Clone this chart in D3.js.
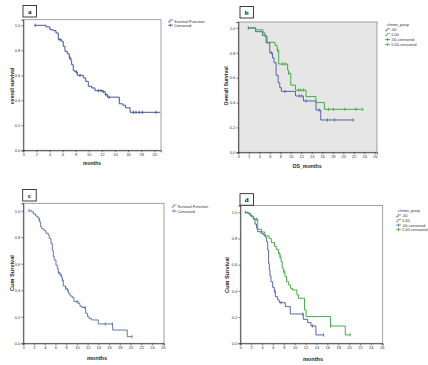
<!DOCTYPE html>
<html><head><meta charset="utf-8">
<script src="https://cdn.jsdelivr.net/npm/d3@7"></script>
<style>body{margin:0;background:#fff}svg{display:block}</style>
</head><body>
<svg id="chart" width="428" height="365"></svg>
<script>
// ---------- DATA ----------
const yTicks = [0, 0.2, 0.4, 0.6, 0.8, 1.0];
const xTicksA = [0, 2, 4, 6, 8, 10, 12, 14, 16, 18, 20];
const xTicksWide = [0, 2, 4, 6, 8, 10, 12, 14, 16, 18, 20, 22, 24, 26];

// Panel a (single curve)
const aTime = [1.78, 3.46, 4.07, 4.58, 4.99, 5.34, 5.85, 6.1, 6.36, 6.72, 7.02, 7.28, 7.38, 7.63, 7.89, 8.24, 9.16, 9.52, 9.92, 10.43, 10.94, 12.1, 12.5, 12.85, 14.66, 15.2, 15.6, 16.3];
const aSurv = [1.0, 0.987, 0.965, 0.957, 0.939, 0.885, 0.872, 0.832, 0.792, 0.771, 0.739, 0.717, 0.685, 0.637, 0.627, 0.6, 0.579, 0.552, 0.512, 0.499, 0.477, 0.469, 0.445, 0.425, 0.372, 0.36, 0.34, 0.304];
const aEnd = 20.9;
const aCens = [1.8, 5.6, 7.1, 8.1, 8.65, 11.45, 11.86, 12.2, 12.6, 13.1, 16.8, 17.2, 17.7, 18.2, 20.25];

// Panel b (two groups)
const bTime0 = [1.9, 3.3, 4.6, 5.3, 6.0, 6.5, 6.8, 7.2, 7.6, 7.9, 8.2, 10.9, 12.4, 14.8, 15.7];
const bSurv0 = [1.0, 0.97, 0.94, 0.88, 0.80, 0.76, 0.72, 0.62, 0.56, 0.52, 0.49, 0.453, 0.413, 0.34, 0.26];
const bEnd0 = 21.9;
const bCens0 = [1.9, 6.3, 8.9, 11.6, 12.1, 12.9, 15.4, 17.0, 18.3, 21.9];
const bTime1 = [1.9, 3.3, 4.7, 5.1, 5.5, 7.0, 7.4, 7.7, 9.4, 9.6, 10.0, 10.9, 12.9, 14.8, 16.4];
const bSurv1 = [1.0, 0.985, 0.96, 0.93, 0.885, 0.86, 0.82, 0.71, 0.66, 0.635, 0.54, 0.5, 0.448, 0.40, 0.346];
const bEnd1 = 23.7;
const bCens1 = [7.5, 8.4, 8.9, 9.6, 11.5, 11.9, 12.4, 17.2, 18.1, 20.3, 22.4, 23.7];

// Panel c (single curve)
const cTime = [1.06, 1.55, 1.87, 2.3, 2.61, 2.92, 3.11, 3.23, 3.42, 3.86, 4.23, 4.66, 4.85, 5.16, 5.41, 5.6, 5.78, 6.09, 6.34, 6.53, 6.84, 7.15, 7.28, 7.46, 7.9, 8.21, 8.4, 8.71, 9.14, 9.45, 10.26, 10.57, 10.95, 11.63, 12.0, 12.31, 12.75, 13.99, 16.67, 19.4];
const cSurv = [1.0, 0.992, 0.975, 0.96, 0.95, 0.93, 0.91, 0.88, 0.864, 0.85, 0.83, 0.816, 0.79, 0.754, 0.70, 0.653, 0.628, 0.59, 0.565, 0.533, 0.515, 0.497, 0.477, 0.432, 0.415, 0.40, 0.377, 0.357, 0.344, 0.314, 0.30, 0.28, 0.27, 0.226, 0.20, 0.186, 0.176, 0.146, 0.10, 0.05];
const cEnd = 20.3;
const cCens = [1.06, 3.0, 6.6, 7.0, 7.3, 7.9, 8.3, 10.0, 11.5, 15.3, 16.6, 20.3];

// Panel d (two groups)
const dTime0 = [0.92, 1.35, 1.84, 2.39, 2.7, 3.0, 3.19, 3.8, 4.23, 4.6, 4.84, 5.03, 5.21, 5.33, 5.46, 5.64, 5.95, 6.25, 6.44, 6.87, 7.17, 8.28, 9.2, 11.59, 12.38, 13.0, 13.9];
const dSurv0 = [1.0, 0.992, 0.972, 0.954, 0.91, 0.878, 0.852, 0.84, 0.827, 0.81, 0.776, 0.712, 0.61, 0.56, 0.514, 0.47, 0.427, 0.394, 0.356, 0.331, 0.31, 0.28, 0.224, 0.183, 0.158, 0.132, 0.064];
const dEnd0 = 15.3;
const dCens0 = [0.92, 6.4, 7.5, 11.5, 13.3, 15.3];
const dTime1 = [0.92, 1.53, 1.96, 2.39, 3.2, 3.9, 4.5, 5.3, 5.7, 6.3, 6.6, 7.0, 7.3, 7.5, 7.7, 7.97, 8.2, 8.5, 8.9, 9.2, 9.6, 10.4, 10.7, 11.8, 12.1, 16.6, 19.3];
const dSurv1 = [1.0, 0.987, 0.97, 0.947, 0.87, 0.85, 0.82, 0.80, 0.77, 0.74, 0.718, 0.687, 0.66, 0.623, 0.573, 0.547, 0.51, 0.47, 0.445, 0.42, 0.407, 0.37, 0.344, 0.254, 0.204, 0.132, 0.064];
const dEnd1 = 20.2;
const dCens1 = [3.0, 7.1, 7.3, 8.0, 16.6, 20.2];

const BLUE_A = "#2b3f8f", BLUE = "#4557a3", BLUE_C = "#5568ad", GREEN = "#35a235";

// ---------- DRAW ----------
const svg = d3.select("#chart");

function survAt(times, survs, t) {
  let s = survs[0];
  for (let i = 0; i < times.length; i++) if (times[i] <= t) s = survs[i];
  return s;
}

function panel(p) {
  const g = svg.append("g");
  const x = d3.scaleLinear().domain([0, p.xMax]).range([p.x0, p.x1]);
  const y = d3.scaleLinear().domain([0, p.yMax]).range([p.yb, p.yt]);
  // background / frame
  g.append("rect").attr("x", p.x0).attr("y", p.yt).attr("width", p.x1 - p.x0).attr("height", p.yb - p.yt)
    .attr("fill", p.bg).attr("stroke", "#8a8a8a").attr("stroke-width", 0.8);
  // axes
  const ax = g.append("g").attr("transform", `translate(0,${p.yb})`)
    .call(d3.axisBottom(x).tickValues(p.xTicks).tickSize(2).tickPadding(1).tickFormat(d3.format("d")));
  const ay = g.append("g").attr("transform", `translate(${p.x0},0)`)
    .call(d3.axisLeft(y).tickValues(yTicks).tickSize(2).tickPadding(1).tickFormat(d3.format(".1f")));
  [ax, ay].forEach(a => {
    a.selectAll("path").attr("stroke", "#333").attr("stroke-width", 0.8);
    a.selectAll("line").attr("stroke", "#333").attr("stroke-width", 0.6);
    a.selectAll("text").attr("font-size", 4).attr("font-family", "Liberation Sans, Arial, sans-serif").attr("fill", "#333");
  });
  // curves
  const line = d3.line().x(d => x(d[0])).y(d => y(d[1])).curve(d3.curveStepAfter);
  p.series.forEach(s => {
    const pts = s.time.map((t, i) => [t, s.surv[i]]);
    pts.push([s.end, s.surv[s.surv.length - 1]]);
    g.append("path").datum(pts).attr("d", line).attr("fill", "none")
      .attr("stroke", s.color).attr("stroke-width", 0.9);
    g.selectAll(null).data(s.cens).enter().append("line")
      .attr("x1", d => x(d)).attr("x2", d => x(d))
      .attr("y1", d => y(survAt(s.time, s.surv, d)) - 1.6)
      .attr("y2", d => y(survAt(s.time, s.surv, d)) + 1.6)
      .attr("stroke", s.color).attr("stroke-width", 0.8);
  });
  // axis titles
  g.append("text").attr("x", p.xtX).attr("y", p.xtY).attr("text-anchor", "middle")
    .attr("font-size", p.titleSize).attr("font-weight", "bold").attr("font-family", "Liberation Sans, Arial, sans-serif")
    .attr("fill", "#222").text(p.xTitle);
  g.append("text").attr("transform", `translate(${p.ytX},${p.ytY}) rotate(-90)`).attr("text-anchor", "middle")
    .attr("font-size", p.titleSize).attr("font-weight", "bold").attr("font-family", "Liberation Sans, Arial, sans-serif")
    .attr("fill", "#222").text(p.yTitle);
  // panel letter box
  g.append("rect").attr("x", p.lbX).attr("y", p.lbY).attr("width", 13.5).attr("height", 11.5)
    .attr("fill", "#fff").attr("stroke", "#111").attr("stroke-width", 0.8);
  g.append("text").attr("x", p.lbX + 6.75).attr("y", p.lbY + 8).attr("text-anchor", "middle")
    .attr("font-size", 7).attr("font-weight", "bold").attr("font-family", "Liberation Serif, Times New Roman, serif")
    .attr("fill", "#111").text(p.letter);
  // legend
  const lg = g.append("g").attr("font-family", "Liberation Sans, Arial, sans-serif").attr("fill", "#333");
  let ly = p.legY;
  if (p.legTitle) {
    lg.append("text").attr("x", p.legX + 2).attr("y", ly).attr("font-size", 3.6).text(p.legTitle);
    ly += 4.8;
  }
  p.legItems.forEach(it => {
    if (it.kind === "line") {
      lg.append("path").attr("d", `M${p.legX},${ly} h2 v-2 h3`).attr("fill", "none")
        .attr("stroke", it.color).attr("stroke-width", 0.7);
    } else {
      lg.append("path").attr("d", `M${p.legX},${ly - 1} h5 M${p.legX + 2.5},${ly - 2.6} v3.2`).attr("fill", "none")
        .attr("stroke", it.color).attr("stroke-width", 0.7);
    }
    lg.append("text").attr("x", p.legX + 6).attr("y", ly + 0.5).attr("font-size", 4).text(it.label);
    ly += p.legStep;
  });
}

panel({ x0: 23.3, x1: 161, xMax: 21.02, yt: 19.7, yb: 150.3, yMax: 1.045, bg: "#fff", xTicks: xTicksA,
  series: [{ time: aTime, surv: aSurv, end: aEnd, cens: aCens, color: BLUE_A }],
  xTitle: "months", xtX: 92, xtY: 165, yTitle: "overall survival", ytX: 13.5, ytY: 86, titleSize: 5,
  letter: "a", lbX: 23, lbY: 5.5,
  legX: 168, legY: 22, legStep: 4.2, legItems: [{ kind: "line", color: BLUE_A, label: "Survival Function" }, { kind: "cens", color: BLUE_A, label: "Censored" }] });

panel({ x0: 238.3, x1: 377, xMax: 26.42, yt: 22, yb: 152.3, yMax: 1.048, bg: "#e6e6e6", xTicks: xTicksWide,
  series: [{ time: bTime0, surv: bSurv0, end: bEnd0, cens: bCens0, color: BLUE }, { time: bTime1, surv: bSurv1, end: bEnd1, cens: bCens1, color: GREEN }],
  xTitle: "OS_months", xtX: 307, xtY: 167.5, yTitle: "Overall Survival", ytX: 227.5, ytY: 86, titleSize: 5.2,
  letter: "b", lbX: 240, lbY: 6.5,
  legX: 385, legY: 26, legTitle: "chemo_group", legStep: 4.9,
  legItems: [{ kind: "line", color: BLUE, label: ".00" }, { kind: "line", color: GREEN, label: "1.00" }, { kind: "cens", color: BLUE, label: ".00-censored" }, { kind: "cens", color: GREEN, label: "1.00-censored" }] });

panel({ x0: 23.3, x1: 164, xMax: 26.25, yt: 203.3, yb: 343.3, yMax: 1.056, bg: "#fff", xTicks: xTicksWide,
  series: [{ time: cTime, surv: cSurv, end: cEnd, cens: cCens, color: BLUE_C }],
  xTitle: "months", xtX: 97, xtY: 360, yTitle: "Cum Survival", ytX: 13.5, ytY: 273, titleSize: 5.6,
  letter: "c", lbX: 22.7, lbY: 189.5,
  legX: 171.5, legY: 207, legStep: 5, legItems: [{ kind: "line", color: BLUE_C, label: "Survival Function" }, { kind: "cens", color: BLUE_C, label: "Censored" }] });

panel({ x0: 240.3, x1: 382.7, xMax: 26.18, yt: 205.5, yb: 343.3, yMax: 1.052, bg: "#fff", xTicks: xTicksWide,
  series: [{ time: dTime0, surv: dSurv0, end: dEnd0, cens: dCens0, color: BLUE }, { time: dTime1, surv: dSurv1, end: dEnd1, cens: dCens1, color: GREEN }],
  xTitle: "months", xtX: 313, xtY: 361, yTitle: "Cum Survival", ytX: 228.5, ytY: 275, titleSize: 5.6,
  letter: "d", lbX: 240, lbY: 193.7,
  legX: 396, legY: 212, legTitle: "chemo_group", legStep: 4.6,
  legItems: [{ kind: "line", color: BLUE, label: ".00" }, { kind: "line", color: GREEN, label: "1.00" }, { kind: "cens", color: BLUE, label: ".00-censored" }, { kind: "cens", color: GREEN, label: "1.00-censored" }] });
</script>
</body></html>
